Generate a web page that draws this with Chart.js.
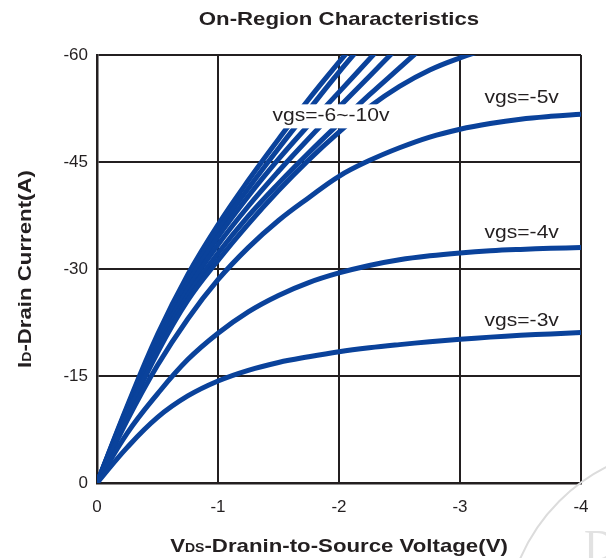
<!DOCTYPE html>
<html>
<head>
<meta charset="utf-8">
<script src="https://cdn.jsdelivr.net/npm/chart.js@4"></script>
<style>
  html, body { margin: 0; padding: 0; background: #fff; }
  #wrap { width: 606px; height: 558px; position: relative; }
</style>
</head>
<body>
<div id="wrap"><canvas id="chart"></canvas></div>
<script>
// drain-source voltage magnitude (V), shared x grid for every curve
const vds = [0, 0.25, 0.5, 0.75, 1, 1.25, 1.5, 1.75, 2, 2.25, 2.5, 2.75, 3, 3.25, 3.5, 3.75, 4];

// drain current magnitude (A)
const idVgs3 = [0, 5.0, 9.2, 12.2, 14.3, 15.8, 16.9, 17.7, 18.4, 18.95, 19.4, 19.8, 20.15, 20.45, 20.7, 20.9, 21.1];
const idVgs4 = [0, 7.0, 12.5, 17.3, 21.0, 24.0, 26.3, 28.1, 29.45, 30.5, 31.3, 31.85, 32.25, 32.55, 32.75, 32.9, 33.0];
const idVgs5 = [0, 8.8, 16.5, 23.0, 28.5, 33.0, 36.8, 40.0, 43.0, 45.2, 47.0, 48.5, 49.6, 50.4, 51.0, 51.4, 51.7];

// the vgs=-6~-10v bundle, from the outermost curve inwards
const idFan1 = [0, 10.8, 20.8, 29.2, 36.2, 42.4, 48.2, 53.8, 59.0, 64.0];
const idFan2 = [0, 10.6, 20.4, 28.7, 35.4, 41.3, 46.9, 52.3, 57.6, 62.6];
const idFan3 = [0, 10.4, 20.0, 28.0, 34.5, 40.2, 45.4, 50.2, 54.8, 59.4, 64.0];
const idFan4 = [0, 10.1, 19.4, 27.2, 33.4, 38.8, 43.7, 48.3, 52.7, 57.0, 61.3];
const idFan5 = [0, 9.8, 18.9, 26.3, 32.2, 37.4, 42.0, 46.3, 50.4, 54.4, 58.2, 62.0];
const idFan6 = [0, 9.5, 18.3, 25.6, 31.2, 36.3, 41.0, 45.3, 49.2, 52.7, 55.6, 57.9, 59.6, 61.0];

const curves = [idVgs3, idVgs4, idVgs5, idFan6, idFan5, idFan4, idFan3, idFan2, idFan1];

const xTickLabels = ['0', '-1', '-2', '-3', '-4'];
const yTickLabels = ['0', '-15', '-30', '-45', '-60'];

const chartTitle = 'On-Region Characteristics';
const xTitle = [['V', false], ['DS', true], ['-Dranin-to-Source Voltage(V)', false]];
const yTitle = [['I', false], ['D', true], ['-Drain Current(A)', false]];

// curve labels: text, anchor voltage, anchor current, alignment, white box behind
const curveLabels = [
  ['vgs=-6~-10v', -1.45, -51.4, 'left', true],
  ['vgs=-5v', -3.51, -54.0, 'center', false],
  ['vgs=-4v', -3.51, -35.0, 'center', false],
  ['vgs=-3v', -3.51, -22.7, 'center', false]
];

const ink = '#231f20';
const blue = '#0a429b';
const font = 'Arial, "Liberation Sans", sans-serif';
const stretch = 1.17; // the source lettering is a little wide

const datasets = curves.map(c => ({
  data: c.map((i, k) => ({ x: -vds[k], y: -i })),
  borderColor: blue,
  borderWidth: 5,
  pointRadius: 0,
  fill: false,
  tension: 0.4,
  clip: 0
}));

// draw text stretched horizontally, starting at x
function wideText(ctx, t, x, y) {
  ctx.save();
  ctx.translate(x, y);
  ctx.scale(stretch, 1);
  ctx.fillText(t, 0, 0);
  ctx.restore();
  return ctx.measureText(t).width * stretch;
}

function drawParts(ctx, parts, x, y) {
  const fontOf = small => (small ? 'bold 12px ' : 'bold 19px ') + font;
  let total = 0;
  parts.forEach(([t, small]) => {
    ctx.font = fontOf(small);
    total += ctx.measureText(t).width * stretch;
  });
  let cx = x - total / 2;
  parts.forEach(([t, small]) => {
    ctx.font = fontOf(small);
    cx += wideText(ctx, t, cx, y);
  });
}

const textPlugin = {
  id: 'textPlugin',
  afterDatasetsDraw(chart) {
    const { ctx, scales } = chart;
    ctx.save();
    ctx.font = '18px ' + font;
    ctx.textAlign = 'left';
    ctx.textBaseline = 'middle';
    curveLabels.forEach(([t, v, i, align, box]) => {
      const px = scales.x.getPixelForValue(v);
      const py = scales.y.getPixelForValue(i);
      const w = ctx.measureText(t).width * stretch;
      const left = align === 'left' ? px : px - w / 2;
      if (box) {
        ctx.fillStyle = '#fff';
        ctx.fillRect(left - 4, py - 12, w + 8, 24);
      }
      ctx.fillStyle = ink;
      wideText(ctx, t, left, py);
    });
    ctx.restore();
  },
  afterDraw(chart) {
    const { ctx, chartArea: a } = chart;
    const midX = (a.left + a.right) / 2;
    ctx.save();
    ctx.fillStyle = ink;
    ctx.textAlign = 'left';
    ctx.textBaseline = 'alphabetic';
    ctx.font = 'bold 19px ' + font;
    const tw = ctx.measureText(chartTitle).width * stretch;
    wideText(ctx, chartTitle, midX - tw / 2, 25);
    drawParts(ctx, xTitle, midX, 552);
    ctx.translate(31, (a.top + a.bottom) / 2);
    ctx.rotate(-Math.PI / 2);
    drawParts(ctx, yTitle, 0, 0);
    ctx.restore();

    // faint watermark in the lower right corner
    ctx.save();
    ctx.strokeStyle = '#dcdcdc';
    ctx.lineWidth = 2;
    ctx.beginPath();
    ctx.arc(690, 632, 185, Math.PI, 1.5 * Math.PI);
    ctx.stroke();
    ctx.fillStyle = '#e2e2e2';
    ctx.font = '44px "Liberation Serif", serif';
    ctx.fillText('D', 584, 560);
    ctx.restore();
  }
};

new Chart(document.getElementById('chart'), {
  type: 'line',
  data: { datasets },
  plugins: [textPlugin],
  options: {
    responsive: true,
    maintainAspectRatio: false,
    animation: false,
    events: [],
    layout: { padding: { left: 0, right: 25, top: 55, bottom: 0 } },
    plugins: {
      legend: { display: false },
      tooltip: { enabled: false },
      title: { display: false }
    },
    scales: {
      x: {
        type: 'linear',
        min: -4,
        max: 0,
        reverse: true,
        afterFit: s => { s.height = 75; },
        border: { display: true, color: ink, width: 2.5 },
        grid: { color: ink, lineWidth: 2, drawTicks: false },
        ticks: {
          stepSize: 1,
          padding: 14,
          color: ink,
          font: { size: 17, family: font },
          callback: v => xTickLabels[Math.round(-v)]
        }
      },
      y: {
        type: 'linear',
        min: -60,
        max: 0,
        reverse: true,
        afterFit: s => { s.width = 97; },
        border: { display: true, color: ink, width: 2.5 },
        grid: { color: ink, lineWidth: 2, drawTicks: false },
        ticks: {
          stepSize: 15,
          padding: 9,
          color: ink,
          font: { size: 17, family: font },
          callback: v => yTickLabels[Math.round(-v / 15)]
        }
      }
    }
  }
});
</script>
</body>
</html>
